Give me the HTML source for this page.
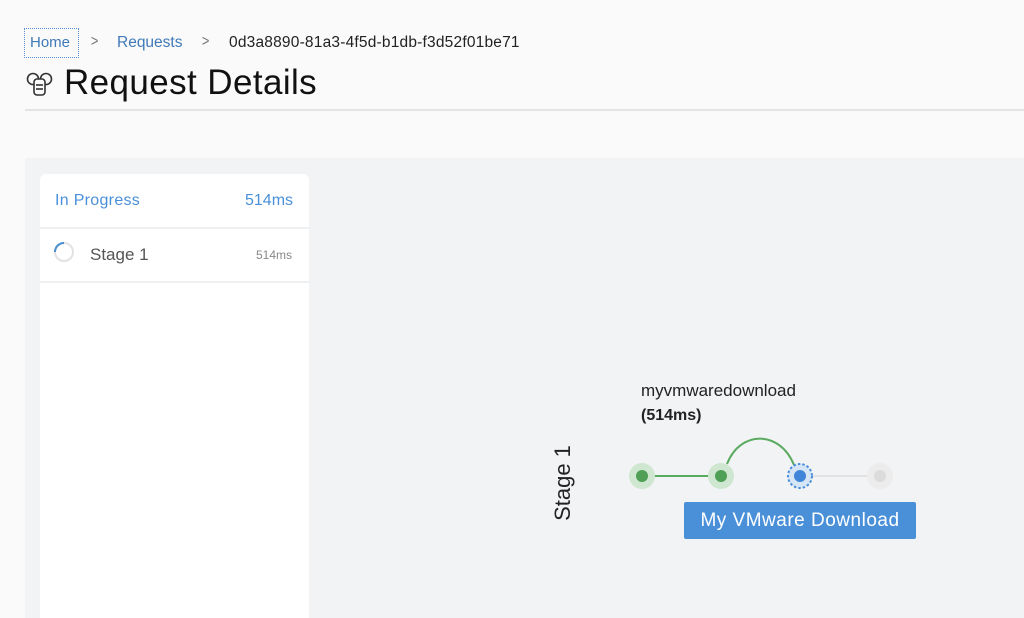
<!DOCTYPE html>
<html><head><meta charset="utf-8"><style>
*{margin:0;padding:0;box-sizing:border-box}
body{width:1024px;height:618px;overflow:hidden;background:#fafafa;font-family:"Liberation Sans",sans-serif;position:relative}
.a{position:absolute;white-space:nowrap}
</style></head><body>
<div class="a" style="left:24px;top:28px;width:55px;height:30px;border:1px dotted #5a8fd0"></div>
<div class="a" style="left:30px;top:34px;font-size:15px;color:#3f79b8">Home</div>
<div class="a" style="left:90px;top:33px;font-size:16px;color:#777;transform:scaleX(0.8)">&gt;</div>
<div class="a" style="left:117px;top:34px;font-size:15.5px;color:#3f79b8">Requests</div>
<div class="a" style="left:201px;top:33px;font-size:16px;color:#777;transform:scaleX(0.8)">&gt;</div>
<div class="a" style="left:229px;top:34px;font-size:15.5px;color:#222;letter-spacing:0.2px">0d3a8890-81a3-4f5d-b1db-f3d52f01be71</div>
<svg class="a" style="left:25px;top:70px" width="30" height="30" viewBox="0 0 30 30" fill="none" stroke="#333" stroke-width="1.6">
<circle cx="8" cy="9" r="5.5"/><circle cx="21" cy="9" r="5.5"/><rect x="9" y="9" width="11" height="16" rx="3" fill="#fafafa"/><line x1="11" y1="15" x2="18" y2="15"/><line x1="11" y1="19" x2="18" y2="19"/></svg>
<div class="a" style="left:64px;top:63px;font-size:35px;color:#111;letter-spacing:0.4px">Request Details</div>
<div class="a" style="left:25px;top:109px;width:999px;height:2px;background:#e4e4e4"></div>
<div class="a" style="left:25px;top:158px;width:999px;height:460px;background:#f2f3f5"></div>
<div class="a" style="left:40px;top:174px;width:269px;height:444px;background:#fff;border-radius:6px 6px 0 0"></div>
<div class="a" style="left:40px;top:227px;width:269px;height:2px;background:#eef0f2"></div>
<div class="a" style="left:40px;top:281px;width:269px;height:2px;background:#eef0f2"></div>
<div class="a" style="left:55px;top:192px;font-size:16px;color:#4a90d9;letter-spacing:0.3px">In Progress</div>
<div class="a" style="left:245px;top:192px;font-size:16px;color:#4a90d9">514ms</div>
<svg class="a" style="left:53px;top:241px" width="22" height="22"><circle cx="11" cy="11" r="9" stroke="#e2e2e2" stroke-width="2" fill="none"/><path d="M2 11 A9 9 0 0 1 11 2" stroke="#4a8fd0" stroke-width="2" fill="none"/></svg>
<div class="a" style="left:90px;top:245px;font-size:17px;color:#555">Stage 1</div>
<div class="a" style="left:256px;top:248px;font-size:12px;color:#888">514ms</div>
<div class="a" style="left:641px;top:381px;font-size:17px;color:#222">myvmwaredownload</div>
<div class="a" style="left:641px;top:407px;font-size:16px;color:#222;font-weight:bold">(514ms)</div>
<div class="a" style="left:563px;top:483px;font-size:22px;color:#222;transform:translate(-50%,-50%) rotate(-90deg)">Stage 1</div>
<svg class="a" style="left:0;top:0" width="1024" height="618">
<line x1="642" y1="476" x2="721" y2="476" stroke="#5aaa5f" stroke-width="2"/>
<line x1="800" y1="476" x2="880" y2="476" stroke="#e2e2e2" stroke-width="2"/>
<path d="M727 464 C740 430, 780 430, 794 465" stroke="#5aaa5f" stroke-width="2" fill="none"/>
<circle cx="642" cy="476" r="13" fill="#cfe6d0"/><circle cx="642" cy="476" r="6" fill="#4f9f56"/>
<circle cx="721" cy="476" r="13" fill="#cfe6d0"/><circle cx="721" cy="476" r="6" fill="#4f9f56"/>
<circle cx="800" cy="476" r="12" fill="#d6e6f6" stroke="#4a8fd9" stroke-width="2" stroke-dasharray="2.5 2"/><circle cx="800" cy="476" r="6" fill="#3f86d8"/>
<circle cx="880" cy="476" r="13" fill="#ececec"/><circle cx="880" cy="476" r="6" fill="#dcdcdc"/>
</svg>
<div class="a" style="left:684px;top:502px;width:232px;height:37px;background:#4a90d9;border-radius:2px;color:#fff;font-size:19px;letter-spacing:0.5px;text-align:center;line-height:37px">My VMware Download</div>
</body></html>
